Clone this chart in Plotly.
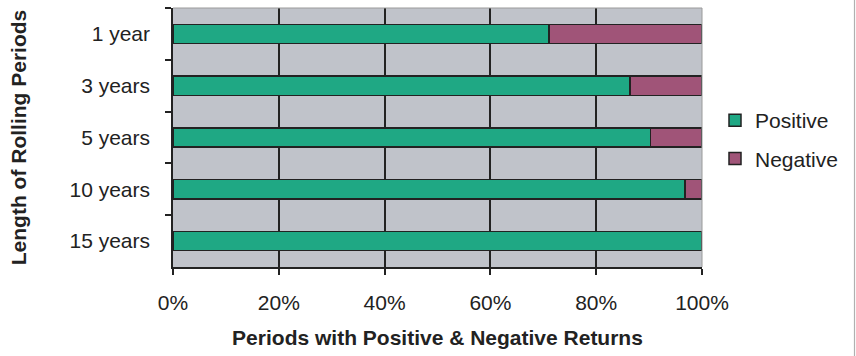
import plotly.graph_objects as go

periods = ["1 year", "3 years", "5 years", "10 years", "15 years"]
positive = [71.1, 86.4, 90.3, 96.8, 100.0]
negative = [28.9, 13.6, 9.7, 3.2, 0.0]
x_ticks = [0, 20, 40, 60, 80, 100]
x_tick_labels = ["0%", "20%", "40%", "60%", "80%", "100%"]

W, H = 856, 356
L, R, T, B = 173, 154, 8, 89
pw = W - L - R
ph = H - T - B

fig = go.Figure()
fig.add_trace(go.Bar(y=periods, x=positive, name="Positive", orientation="h",
                     marker=dict(color="rgb(31,168,132)", line=dict(color="#222222", width=1.5)),
                     legendgroup="a"))
fig.add_trace(go.Bar(y=periods, x=negative, name="Negative", orientation="h",
                     marker=dict(color="rgb(160,84,120)", line=dict(color="#222222", width=1.5)),
                     legendgroup="b"))

font = "Liberation Sans, Arial, sans-serif"
fig.update_layout(
    width=W, height=H,
    margin=dict(l=L, r=R, t=T, b=B, pad=0, autoexpand=False),
    barmode="stack", bargap=0.63,
    paper_bgcolor="white", plot_bgcolor="rgb(192,195,202)",
    font=dict(family=font, size=21, color="#222222"),
    showlegend=True,
    legend=dict(x=(715 - L) / pw, y=(H - B - 139.5) / ph, xanchor="left", yanchor="middle",
                traceorder="grouped", tracegroupgap=8,
                font=dict(family=font, size=21, color="#222222"), itemwidth=30,
                bgcolor="rgba(0,0,0,0)"),
    xaxis=dict(range=[0, 100], tickvals=x_ticks, ticktext=x_tick_labels,
               showgrid=True, gridcolor="#222222", gridwidth=1.5,
               showline=True, linecolor="#222222", linewidth=1.5,
               ticks="outside", ticklen=6, tickcolor="#222222", tickwidth=1.5,
               tickfont=dict(family=font, size=21, color="#222222"),
               ticklabelstandoff=10, zeroline=False,
               title=dict(text="<b>Periods with Positive &amp; Negative Returns</b>",
                          font=dict(family=font, size=21, color="#222222"), standoff=17)),
    yaxis=dict(autorange="reversed", tickson="boundaries", showgrid=False,
               showline=True, linecolor="#222222", linewidth=1.5,
               ticks="outside", ticklen=6, tickcolor="#222222", tickwidth=1.5,
               tickfont=dict(family=font, size=21, color="#222222"),
               ticklabelstandoff=17,
               title=dict(text="<b>Length of Rolling Periods</b>",
                          font=dict(family=font, size=21, color="#222222"), standoff=37)),
)

# light border on top and right of plot area
fig.add_shape(type="line", xref="paper", yref="paper", x0=0, x1=1, y0=1, y1=1,
              line=dict(color="#9a9a9a", width=1))
fig.add_shape(type="line", xref="paper", yref="paper", x0=1, x1=1, y0=0, y1=1,
              line=dict(color="#9a9a9a", width=1))
# right chart border
xe = (854.5 - L) / pw
fig.add_shape(type="line", xref="paper", yref="paper", x0=xe, x1=xe,
              y0=-B / ph, y1=(H - B) / ph,
              line=dict(color="#b0b0b0", width=1.2))

fig.write_html("out.html", config={"displayModeBar": False},
               post_script="document.body.style.margin='0';")
